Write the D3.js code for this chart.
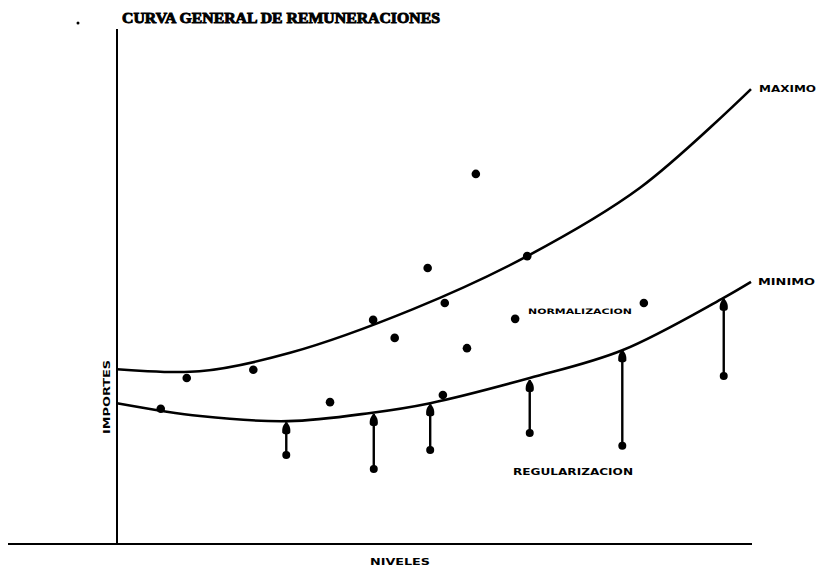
<!DOCTYPE html>
<html><head><meta charset="utf-8">
<script src="https://cdn.jsdelivr.net/npm/d3@7"></script>
<style>
html,body{margin:0;padding:0;background:#fff;}
svg{display:block;}
text{fill:#000;font-weight:bold;}
</style></head>
<body>
<svg id="chart" width="821" height="566"></svg>
<script>
// ---- data (niveles 0..100, importes 0..100) ----
const maxNivel   = [0, 13, 27.3, 46.7, 64.7, 82.5, 100];
const maxImporte = [34.0, 33.6, 37.2, 45.7, 56.0, 69.3, 88.5];

const minNivel   = [0, 13.1, 27, 40, 49.4, 65.1, 79.7, 95.4, 100];
const minImporte = [27.4, 24.9, 23.9, 25.5, 27.4, 32.3, 37.7, 47.7, 51.0];

const puntoNivel   = [6.9, 11.0, 21.5, 33.6, 40.4, 43.8, 49.0, 51.7, 56.6, 55.2, 51.4, 64.7, 62.8, 83.1];
const puntoImporte = [26.3, 32.3, 33.9, 27.6, 43.6, 40.1, 53.7, 46.9, 72.0, 38.1, 29.0, 56.0, 43.8, 46.9];

const regNivel = [26.7, 40.5, 49.4, 65.1, 79.7, 95.7];
const regDesde = [17.3, 14.6, 18.3, 21.6, 19.1, 32.7];
const regHasta = [23.7, 25.3, 27.2, 31.9, 37.7, 47.7];

const titulo = "CURVA GENERAL DE REMUNERACIONES";
const ejeX = "NIVELES";
const ejeY = "IMPORTES";
const etiquetaMax = "MAXIMO";
const etiquetaMin = "MINIMO";
const etiquetaNorm = "NORMALIZACION";
const etiquetaReg = "REGULARIZACION";

// ---- scales ----
const svg = d3.select("#chart");
const x = d3.scaleLinear().domain([0, 100]).range([117, 751]);
const y = d3.scaleLinear().domain([0, 100]).range([544, 30]);

// axes (plain lines, no ticks)
svg.append("line").attr("x1", x(0)).attr("x2", x(0)).attr("y1", 29).attr("y2", y(0))
  .attr("stroke", "#000").attr("stroke-width", 2);
svg.append("line").attr("x1", 8).attr("x2", 752).attr("y1", y(0)).attr("y2", y(0))
  .attr("stroke", "#000").attr("stroke-width", 2);

// curves
const line = d3.line().x(d => x(d[0])).y(d => y(d[1])).curve(d3.curveCatmullRom.alpha(0.5));
svg.append("path").datum(d3.zip(maxNivel, maxImporte)).attr("d", line)
  .attr("fill", "none").attr("stroke", "#000").attr("stroke-width", 2.6);
svg.append("path").datum(d3.zip(minNivel, minImporte)).attr("d", line)
  .attr("fill", "none").attr("stroke", "#000").attr("stroke-width", 2.6);

// regularization arrows
const regs = regNivel.map((n, i) => ({n, a: regDesde[i], b: regHasta[i]}));
const g = svg.append("g");
g.selectAll("line.reg").data(regs).join("line")
  .attr("x1", d => x(d.n)).attr("x2", d => x(d.n))
  .attr("y1", d => y(d.a)).attr("y2", d => y(d.b))
  .attr("stroke", "#000").attr("stroke-width", 2.4);
g.selectAll("circle.reg").data(regs).join("circle")
  .attr("cx", d => x(d.n)).attr("cy", d => y(d.a)).attr("r", 4);
g.selectAll("path.head").data(regs).join("path")
  .attr("transform", d => `translate(${x(d.n)},${y(d.b)})`)
  .attr("d", "M0,0 C3,2 4.5,6 4,10 C3.5,13 -3.5,13 -4,10 C-4.5,6 -3,2 0,0 Z")
  .attr("fill", "#000");

// scatter points
svg.selectAll("circle.pt").data(d3.zip(puntoNivel, puntoImporte)).join("circle")
  .attr("cx", d => x(d[0])).attr("cy", d => y(d[1])).attr("r", 4.3).attr("fill", "#000");

// texts
svg.append("text").attr("x", 122).attr("y", 23).text(titulo)
  .style("font-family", "'Liberation Serif',serif").attr("font-size", 15)
  .attr("textLength", 318).attr("lengthAdjust", "spacingAndGlyphs")
  .attr("stroke", "#000").attr("stroke-width", 0.9);
svg.append("circle").attr("cx", 78).attr("cy", 23).attr("r", 1.5);

const small = (sel) => sel.style("font-family", "'DejaVu Sans',sans-serif");
small(svg.append("text").attr("x", 370).attr("y", 565).text(ejeX)
  .attr("font-size", 8).attr("textLength", 60).attr("lengthAdjust", "spacingAndGlyphs"));
small(svg.append("text").attr("transform", "translate(110,434) rotate(-90)").text(ejeY)
  .attr("font-size", 8).attr("textLength", 74).attr("lengthAdjust", "spacingAndGlyphs"));
small(svg.append("text").attr("x", 759).attr("y", 92).text(etiquetaMax)
  .attr("font-size", 8.5).attr("textLength", 57).attr("lengthAdjust", "spacingAndGlyphs"));
small(svg.append("text").attr("x", 758).attr("y", 285).text(etiquetaMin)
  .attr("font-size", 8.5).attr("textLength", 57).attr("lengthAdjust", "spacingAndGlyphs"));
small(svg.append("text").attr("x", 528).attr("y", 314).text(etiquetaNorm)
  .attr("font-size", 7.5).attr("textLength", 104).attr("lengthAdjust", "spacingAndGlyphs"));
small(svg.append("text").attr("x", 513).attr("y", 475).text(etiquetaReg)
  .attr("font-size", 8).attr("textLength", 120).attr("lengthAdjust", "spacingAndGlyphs"));
</script>
</body></html>
